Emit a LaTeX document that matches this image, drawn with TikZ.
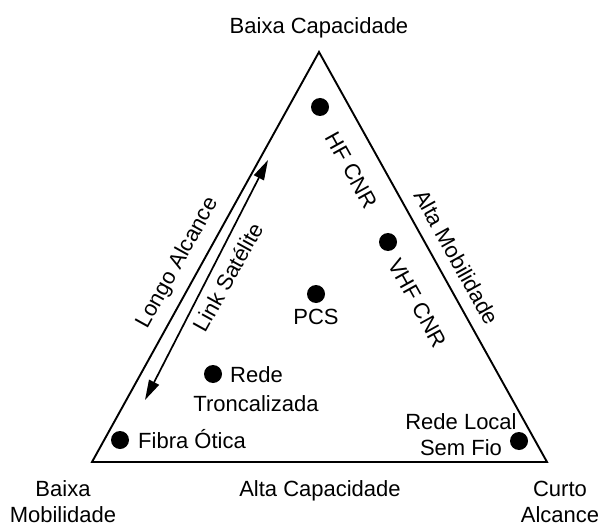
\documentclass[tikz,border=0pt]{standalone}
\usepackage{fontspec}
\setmainfont{Liberation Sans}
\usetikzlibrary{arrows.meta}
\begin{document}
\begin{tikzpicture}[x=1pt,y=-1pt,
  edge/.style={line width=1.9pt, line join=miter},
  dot/.style={circle, fill=black, inner sep=0pt, minimum size=18pt},
  lbl/.style={font=\fontsize{22}{26}\selectfont, inner sep=0pt, text height=16pt, text depth=0pt},
  mlbl/.style={font=\fontsize{22}{26}\selectfont, inner sep=0pt, align=center},
  dblarrow/.style={line width=1.7pt, {Triangle[length=20pt,width=11pt]}-{Triangle[length=20pt,width=11pt]}}
]
\fill[white] (0,0) rectangle (601,526);
\useasboundingbox (0,0) rectangle (601,526);
% triangle
\coordinate (top) at (319,52);
\coordinate (bl) at (92,462);
\coordinate (br) at (547,462);
\draw[edge] (top) -- (bl) -- (br) -- cycle;
% corner and side labels
\node[lbl] (baixacap) at (319,26) {Baixa Capacidade};
\node[lbl] (altacap) at (320,488.5) {Alta Capacidade};
\node[mlbl] (baixamob) at (63,501.5) {Baixa\\Mobilidade};
\node[mlbl] (curto) at (560,501.5) {Curto\\Alcance};
\node[lbl, rotate=61] (longo) at (176,262) {Longo Alcance};
\node[lbl, rotate=-61] (altamob) at (457,257) {Alta Mobilidade};
% satellite link arrow
\coordinate (arrlo) at (145,400);
\coordinate (arrhi) at (268,160);
\draw[dblarrow] (arrlo) -- (arrhi);
\node[lbl, rotate=61] (link) at (228,277) {Link Satélite};
% points
\node[dot] (hf) at (320,107) {};
\node[lbl, rotate=-61] (hflbl) at (352,170) {HF CNR};
\node[dot] (vhf) at (388,242) {};
\node[lbl, rotate=-61] (vhflbl) at (418,303) {VHF CNR};
\node[dot] (pcs) at (316,294) {};
\node[lbl] (pcslbl) at (316,316) {PCS};
\node[dot] (rede) at (213,374) {};
\node[lbl, anchor=west] (redelbl) at (230,374.5) {Rede};
\node[lbl] (tronclbl) at (256,403) {Troncalizada};
\node[dot] (fibra) at (120,440) {};
\node[lbl, anchor=west] (fibralbl) at (138,440) {Fibra Ótica};
\node[dot] (wlan) at (519,441) {};
\node[mlbl] (wlanlbl) at (461,435) {Rede Local\\Sem Fio};
\end{tikzpicture}
\end{document}
